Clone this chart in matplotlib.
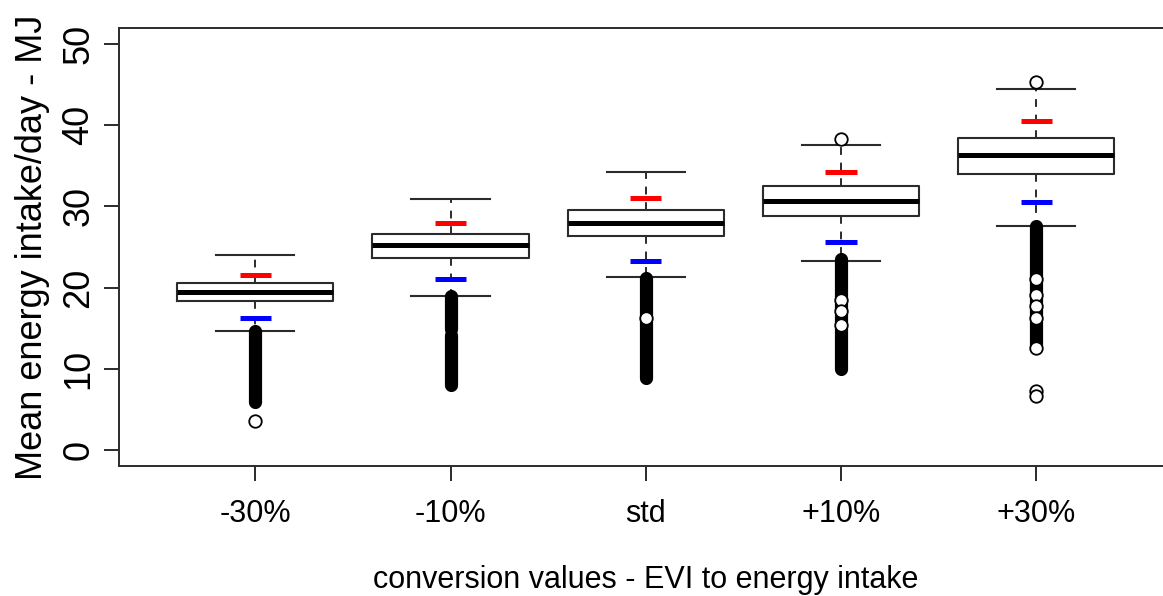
import matplotlib
matplotlib.use("Agg")
import matplotlib.pyplot as plt

plt.rcParams["font.family"] = ["Liberation Sans", "DejaVu Sans"]

categories = ["-30%", "-10%", "std", "+10%", "+30%"]
whisker_low = [14.7, 18.9, 21.3, 23.3, 27.6]
q1 = [18.3, 23.7, 26.3, 28.8, 34.0]
medians = [19.5, 25.2, 28.0, 30.7, 36.3]
q3 = [20.6, 26.6, 29.6, 32.5, 38.4]
whisker_high = [24.0, 30.9, 34.2, 37.6, 44.5]

# short red / blue reference marks drawn on each box
upper_marks = [21.6, 27.9, 31.1, 34.2, 40.5]
lower_marks = [16.2, 21.0, 23.3, 25.6, 30.5]

# ranges where the outlier circles overlap into a solid column
dense_outliers = [
    [(14.6, 5.9)],
    [(18.9, 14.9), (14.2, 8.0)],
    [(21.2, 8.8)],
    [(23.5, 9.9)],
    [(27.6, 12.7)],
]
# single outliers that stand apart
outliers = [
    [3.5],
    [],
    [16.3],
    [38.3, 18.5, 17.1, 15.4],
    [45.3, 21.0, 19.1, 17.7, 16.3, 12.6, 7.2, 6.6],
]

positions = list(range(1, len(categories) + 1))

fig = plt.figure(figsize=(11.63, 5.96), dpi=100)
ax = fig.add_axes([118.6 / 1163, 130 / 596, (1173 - 118.6) / 1163, 438 / 596])

line_col = "#2b2b2b"
stats = []
for i, cat in enumerate(categories):
    stats.append(
        dict(
            label=cat,
            whislo=whisker_low[i],
            q1=q1[i],
            med=medians[i],
            q3=q3[i],
            whishi=whisker_high[i],
            fliers=[],
        )
    )

ax.bxp(
    stats,
    positions=positions,
    widths=0.8,
    capwidths=0.4,
    showfliers=False,
    boxprops=dict(color=line_col, linewidth=1.5),
    medianprops=dict(color="black", linewidth=3.6),
    whiskerprops=dict(color=line_col, linewidth=1.4, linestyle=(0, (4, 4))),
    capprops=dict(color=line_col, linewidth=1.5),
)

ax.hlines(upper_marks, [p - 0.08 for p in positions], [p + 0.08 for p in positions],
          colors="#ff0000", linewidth=3.6, zorder=4)
ax.hlines(lower_marks, [p - 0.08 for p in positions], [p + 0.08 for p in positions],
          colors="#0000ff", linewidth=3.6, zorder=4)

for p, bands in zip(positions, dense_outliers):
    for hi, lo in bands:
        ax.plot([p, p], [lo, hi], color="black", linewidth=9.5,
                solid_capstyle="round", zorder=5)

for p, vals in zip(positions, outliers):
    ax.plot([p] * len(vals), vals, linestyle="none", marker="o", ms=9,
            mfc="white", mec="black", mew=1.3, zorder=6)

ax.set_xlim(0.3, 5.7)
ax.set_ylim(-2, 52)
ax.set_xticks(positions)
ax.set_xticklabels(categories, fontsize=22)
ax.set_yticks([0, 10, 20, 30, 40, 50])
ax.set_yticklabels(["0", "10", "20", "30", "40", "50"], rotation=90, va="center",
                   fontsize=26)

for s in ax.spines.values():
    s.set_color(line_col)
    s.set_linewidth(1.4)
ax.tick_params(axis="both", direction="out", length=11, width=1.4, color=line_col)
ax.tick_params(axis="x", pad=13)
ax.tick_params(axis="y", pad=5)

ax.set_xlabel("conversion values - EVI to energy intake", fontsize=22, labelpad=26)
ax.set_ylabel("Mean energy intake/day - MJ", fontsize=26, labelpad=8)

fig.savefig("out.png", dpi=100)
